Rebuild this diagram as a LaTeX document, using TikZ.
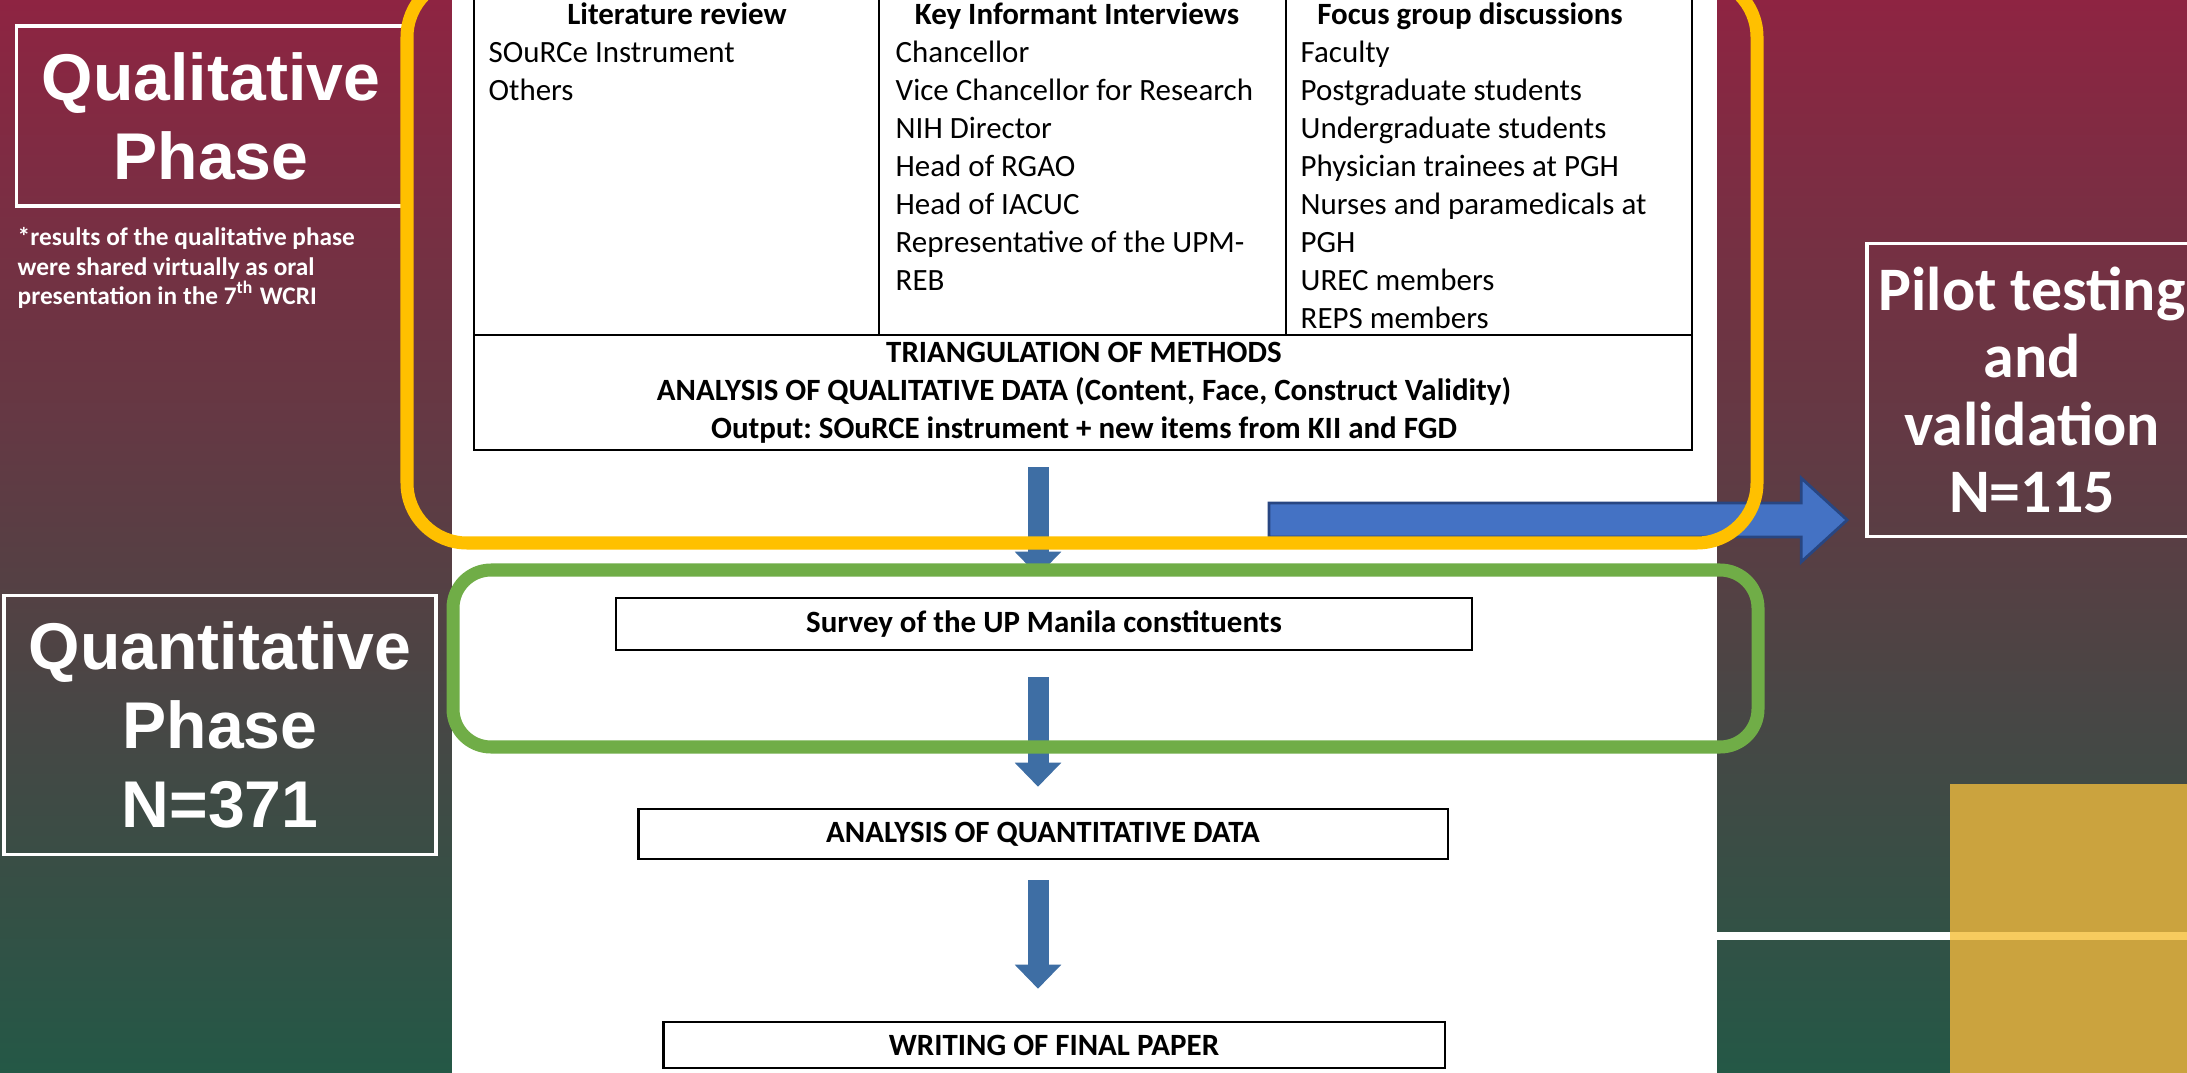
\documentclass[tikz,border=0pt]{standalone}
\usepackage{fontspec}
\setmainfont{Carlito}
\newfontfamily\arialfont{Liberation Sans}
\usetikzlibrary{arrows.meta,calc,positioning}
\frenchspacing

\definecolor{bgtop}{RGB}{142,36,66}
\definecolor{bgmid}{RGB}{88,60,65}
\definecolor{bgbot}{RGB}{36,88,70}
\definecolor{goldbox}{RGB}{203,163,62}
\definecolor{goldline}{RGB}{247,203,94}
\definecolor{qualyellow}{RGB}{255,192,0}
\definecolor{quantgreen}{RGB}{112,173,71}
\definecolor{flowblue}{RGB}{62,110,164}
\definecolor{sideblue}{RGB}{68,114,196}
\definecolor{sideedge}{RGB}{40,70,130}

\tikzset{
  phasebox/.style={draw=white, line width=1pt, text=white, align=center,
    font=\arialfont\bfseries\fontsize{18.8}{22.5}\selectfont},
  pilotbox/.style={draw=white, line width=1pt, text=white, align=center,
    font=\bfseries\fontsize{17.6}{19.1}\selectfont},
  item/.style={anchor=west, inner sep=0pt, text height=6pt, text depth=0pt,
    font=\fontsize{8.8}{10.8}\selectfont},
  colhead/.style={inner sep=0pt, text height=6pt, text depth=0pt,
    font=\bfseries\fontsize{8.8}{10.8}\selectfont},
  stepbox/.style={draw, line width=0.7pt, fill=white, inner sep=0pt,
    font=\bfseries\fontsize{8.8}{10.8}\selectfont},
  downarrow/.style={draw=flowblue, line width=0.21cm,
    -{Triangle[width=0.45cm,length=0.24cm]}},
  frame/.style={line width=0.13cm, rounded corners=0.6cm}
}

\begin{document}
\begin{tikzpicture}[x=0.01cm, y=-0.01cm]
  \useasboundingbox (0,0) rectangle (2187,1073);
  % background and page
  \shade[top color=bgtop, middle color=bgmid, bottom color=bgbot] (0,0) rectangle (2187,1073);
  \fill[white] (452,0) rectangle (1717,1073);
  \fill[goldbox] (1950,784) rectangle (2187,1073);
  \draw[white, line width=0.08cm] (1717,936) -- (1950,936);
  \draw[goldline, line width=0.08cm] (1950,936) -- (2187,936);

  % phase labels
  \node[phasebox, minimum width=3.89cm, minimum height=1.80cm] (qual) at (211,116) {Qualitative\\Phase};
  \node[anchor=west, align=left, text=white, inner sep=0pt,
    font=\bfseries\fontsize{7.2}{8.3}\selectfont] (note) at (17,268)
    {*results of the qualitative phase\\were shared virtually as oral\\presentation in the 7\textsuperscript{th} WCRI};
  \node[phasebox, minimum width=4.32cm, minimum height=2.59cm] (quant) at (220,725) {Quantitative\\Phase\\N=371};
  \node[pilotbox, minimum width=3.24cm, minimum height=2.93cm] (pilot) at (2032,390) {Pilot testing\\and\\validation\\N=115};

  % table of the qualitative phase
  \draw[line width=0.6pt] (474,-10) rectangle (1692,450);
  \draw[line width=0.6pt] (474,335) -- (1692,335);
  \draw[line width=0.6pt] (879,-10) -- (879,335);
  \draw[line width=0.6pt] (1286,-10) -- (1286,335);
  \node[colhead] (lithead) at (677,14) {Literature review};
  \node[colhead] (kiihead) at (1077,14) {Key Informant Interviews};
  \node[colhead] (fgdhead) at (1470,14) {Focus group discussions};
  \foreach \txt [count=\i] in {SOuRCe Instrument, Others}
    \node[item] (lit\i) at (488,14+38*\i) {\txt};
  \foreach \txt [count=\i] in {Chancellor, Vice Chancellor for Research, NIH Director,
      Head of RGAO, Head of IACUC, Representative of the UPM-, REB}
    \node[item] (kii\i) at (895,14+38*\i) {\txt};
  \foreach \txt [count=\i] in {Faculty, Postgraduate students, Undergraduate students,
      Physician trainees at PGH, Nurses and paramedicals at, PGH, UREC members, REPS members}
    \node[item] (fgd\i) at (1300,14+38*\i) {\txt};
  \node[align=center, inner sep=0pt, font=\bfseries\fontsize{8.8}{10.8}\selectfont] (triang) at (1084,393)
    {TRIANGULATION OF METHODS\\ANALYSIS OF QUALITATIVE DATA (Content, Face, Construct Validity)\\Output: SOuRCE instrument + new items from KII and FGD};
  \coordinate (tblbot) at (1038,450);

  % quantitative steps
  \node[stepbox, minimum width=8.55cm, minimum height=0.52cm] (survey) at (1044,624) {Survey of the UP Manila constituents};
  \node[stepbox, minimum width=8.09cm, minimum height=0.50cm] (analysis) at (1043,834) {ANALYSIS OF QUANTITATIVE DATA};
  \node[stepbox, minimum width=7.81cm, minimum height=0.46cm] (writing) at (1054,1045) {WRITING OF FINAL PAPER};

  % arrows
  \draw[downarrow, shorten <=0.17cm, shorten >=0.21cm] (tblbot) -- (tblbot |- survey.north);
  \draw[downarrow, shorten <=0.26cm, shorten >=0.21cm] (tblbot |- survey.south) -- (tblbot |- analysis.north);
  \draw[downarrow, shorten <=0.20cm, shorten >=0.32cm] (tblbot |- analysis.south) -- (tblbot |- writing.north);
  \coordinate (hstart) at (1269,520);
  \coordinate (htip) at ($(pilot.west)+(-18,130)$);
  \filldraw[fill=sideblue, draw=sideedge, line width=0.8pt]
    ($(hstart)+(0,-17)$) -- ($(htip)+(-46,-17)$) -- ($(htip)+(-46,-42)$) -- (htip)
    -- ($(htip)+(-46,42)$) -- ($(htip)+(-46,17)$) -- ($(hstart)+(0,17)$) -- cycle;

  % phase frames
  \draw[frame, qualyellow] (407,-23) rectangle (1757,543);
  \draw[frame, quantgreen, rounded corners=0.38cm] (453,570) rectangle (1758,747);
\end{tikzpicture}
\end{document}
